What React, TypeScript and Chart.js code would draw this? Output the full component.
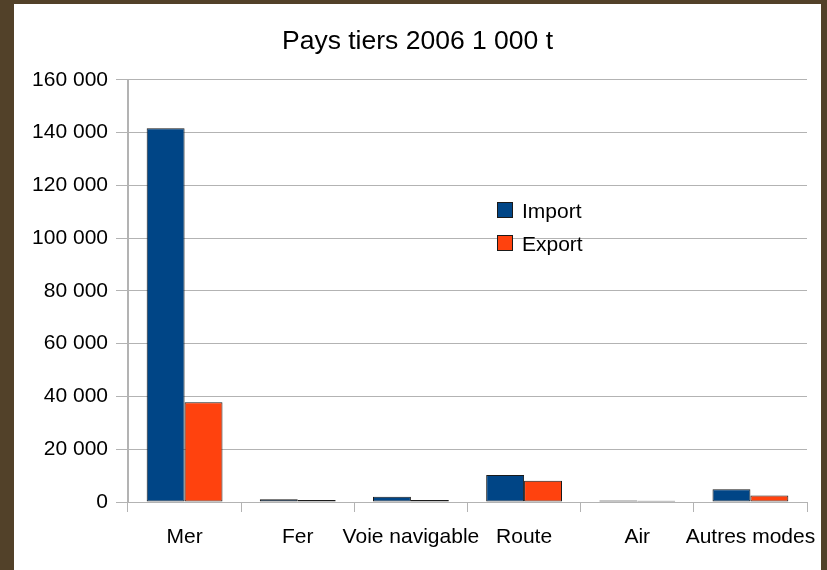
import React, { useEffect, useRef } from "react";
import { Chart, registerables } from "chart.js";

Chart.register(...registerables);

const categories = ["Mer", "Fer", "Voie navigable", "Route", "Air", "Autres modes"];
const importValues = [141600, 1000, 2000, 10200, 600, 4800];
const exportValues = [37800, 800, 800, 8100, 500, 2500];
const seriesLabels = ["Import", "Export"];
const yTickStep = 20000;
const yMax = 160000;
const titleText = "Pays tiers 2006 1 000 t";

const FONT = "'Liberation Sans', Arial, sans-serif";
const GRID = "#b3b3b3";

const formatThousands = (v: number) =>
  String(v).replace(/\B(?=(\d{3})+(?!\d))/g, " ");

const insideLegend = {
  id: "insideLegend",
  afterDraw(chart: any) {
    const ctx = chart.ctx;
    const x = 483;
    const y0 = 198;
    const gap = 33;
    ctx.save();
    chart.data.datasets.forEach((ds: any, i: number) => {
      const y = y0 + i * gap;
      ctx.fillStyle = ds.backgroundColor;
      ctx.fillRect(x, y, 16, 16);
      ctx.strokeStyle = "#1a1a1a";
      ctx.lineWidth = 1;
      ctx.strokeRect(x + 0.5, y + 0.5, 15, 15);
      ctx.fillStyle = "#000";
      ctx.font = `21px ${FONT}`;
      ctx.textBaseline = "middle";
      ctx.textAlign = "left";
      ctx.fillText(ds.label, x + 25, y + 10);
    });
    ctx.restore();
  },
};

export default function App() {
  const ref = useRef<HTMLCanvasElement>(null);
  useEffect(() => {
    document.body.style.margin = "0";
    const chart = new Chart(ref.current!, {
      type: "bar",
      data: {
        labels: categories,
        datasets: [
          {
            label: seriesLabels[0],
            data: importValues,
            backgroundColor: "#004586",
            borderColor: "#1a1a1a",
            borderWidth: 1,
            borderSkipped: false,
            categoryPercentage: 0.67,
            barPercentage: 1,
          },
          {
            label: seriesLabels[1],
            data: exportValues,
            backgroundColor: "#ff420e",
            borderColor: "#1a1a1a",
            borderWidth: 1,
            borderSkipped: false,
            categoryPercentage: 0.67,
            barPercentage: 1,
          },
        ],
      },
      options: {
        animation: false,
        responsive: false,
        layout: { padding: 0 },
        plugins: {
          legend: { display: false },
          tooltip: { enabled: false },
          title: {
            display: true,
            text: titleText,
            color: "#000",
            font: { family: FONT, size: 26.5, weight: "normal" },
            padding: { top: 22, bottom: 22 },
          },
        },
        scales: {
          x: {
            offset: true,
            grid: {
              offset: true,
              drawOnChartArea: true,
              color: (c: any) =>
                c.index === 0 || c.index === categories.length ? GRID : "rgba(0,0,0,0)",
              tickColor: GRID,
              tickLength: 10,
            },
            border: { display: false },
            ticks: {
              color: "#000",
              font: { family: FONT, size: 21 },
              padding: 13,
              maxRotation: 0,
              autoSkip: false,
            },
            afterFit: (s: any) => {
              s.height = 68;
              s.paddingLeft = 0;
              s.paddingRight = 14;
            },
          },
          y: {
            min: 0,
            max: yMax,
            grid: { color: GRID, tickLength: 12 },
            border: { display: true, color: GRID },
            ticks: {
              stepSize: yTickStep,
              color: "#000",
              font: { family: FONT, size: 21 },
              padding: 8,
              callback: (v: any) => formatThousands(Number(v)),
            },
            afterFit: (s: any) => {
              s.width = 114;
              s.paddingTop = 0;
              s.paddingBottom = 0;
            },
          },
        },
      },
      plugins: [insideLegend],
    });
    return () => chart.destroy();
  }, []);

  return (
    <div
      style={{
        background: "#524129",
        paddingTop: 4,
        paddingLeft: 14,
        paddingRight: 6,
        width: 807,
        height: 566,
      }}
    >
      <div style={{ background: "#fff", width: 807, height: 566 }}>
        <canvas ref={ref} width={807} height={566} style={{ display: "block" }} />
      </div>
    </div>
  );
}
